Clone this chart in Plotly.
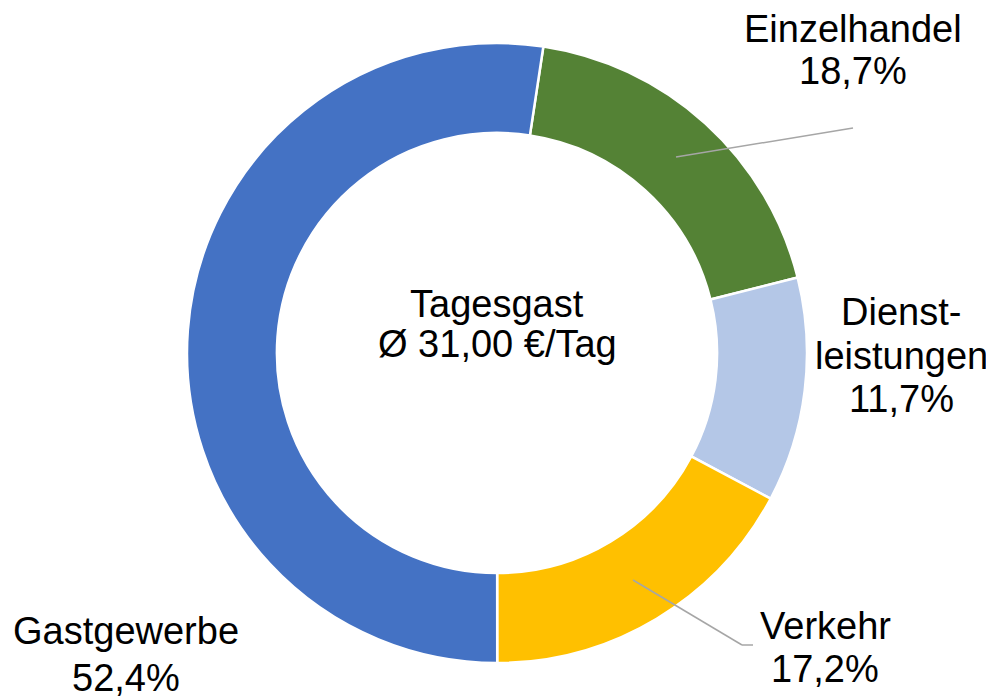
import plotly.graph_objects as go

categories = ["Einzelhandel", "Dienstleistungen", "Verkehr", "Gastgewerbe"]
label_lines = [["Einzelhandel"], ["Dienst-", "leistungen"], ["Verkehr"], ["Gastgewerbe"]]
shares = [18.7, 11.7, 17.2, 52.4]
colors = ["#548235", "#B4C7E7", "#FFC000", "#4472C4"]
center_lines = ["Tagesgast", "Ø 31,00 €/Tag"]

W, H = 994, 700
OFF = 8  # page body margin offset
FONT = "Liberation Sans, Arial, sans-serif"
FS = 38
FS_C = 38

def px(x):
    return (x - OFF) / W

def py(y):
    return 1 - (y - OFF) / H

fig = go.Figure(go.Pie(
    labels=categories, values=shares, sort=False, direction="clockwise",
    rotation=8.6, hole=0.71,
    marker=dict(colors=colors, line=dict(color="white", width=2.5)),
    textinfo="none", hoverinfo="label+percent", showlegend=False,
    domain=dict(x=[px(187), px(807)], y=[py(663), py(43)]),
))

# label anchor positions (pixel centres of each text line)
label_pos = {
    "Einzelhandel": (853, [29, 71]),
    "Dienstleistungen": (901, [312, 356, 399]),
    "Verkehr": (825, [626, 669]),
    "Gastgewerbe": (126, [631, 678]),
}

annotations = []
for cat, lines, val in zip(categories, label_lines, shares):
    texts = lines + [f"{val:.1f}".replace(".", ",") + "%"]
    cx, ys = label_pos[cat]
    for t, yy in zip(texts, ys):
        annotations.append(dict(x=px(cx), y=py(yy), xref="paper", yref="paper",
                                text=t, showarrow=False, xanchor="center", yanchor="middle",
                                font=dict(family=FONT, size=FS, color="#000000")))
for t, yy in zip(center_lines, [304, 344]):
    annotations.append(dict(x=px(497), y=py(yy), xref="paper", yref="paper",
                            text=t, showarrow=False, xanchor="center", yanchor="middle",
                            font=dict(family=FONT, size=FS_C, color="#000000")))

line_style = dict(color="#A6A6A6", width=1.5)
shapes = [
    dict(type="line", xref="paper", yref="paper", x0=px(676), y0=py(157), x1=px(853), y1=py(128), line=line_style),
    dict(type="line", xref="paper", yref="paper", x0=px(633), y0=py(580), x1=px(742), y1=py(645), line=line_style),
    dict(type="line", xref="paper", yref="paper", x0=px(742), y0=py(645), x1=px(753), y1=py(645), line=line_style),
]

fig.update_layout(
    width=W, height=H, margin=dict(l=0, r=0, t=0, b=0),
    paper_bgcolor="white", plot_bgcolor="white",
    annotations=annotations, shapes=shapes,
)

fig.write_html("out.html")
